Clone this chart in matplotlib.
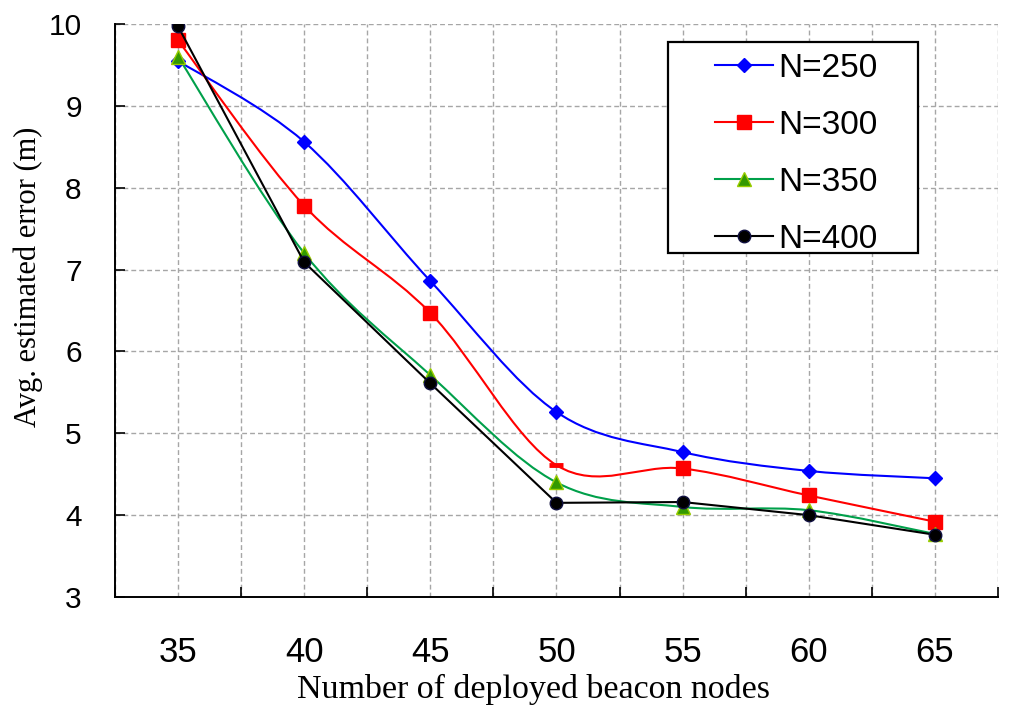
import matplotlib
matplotlib.use("Agg")
import matplotlib.pyplot as plt
from matplotlib.path import Path
from matplotlib.patches import PathPatch, Rectangle
from matplotlib.lines import Line2D

# ---- data ----
beacons = [35, 40, 45, 50, 55, 60, 65]
n250 = [9.55, 8.56, 6.86, 5.26, 4.77, 4.54, 4.45]
n300 = [9.80, 7.78, 6.47, 4.61, 4.57, 4.24, 3.92]
n350 = [9.60, 7.20, 5.71, 4.40, 4.10, 4.06, 3.77]
n400 = [9.97, 7.09, 5.61, 4.15, 4.16, 4.00, 3.76]
series_labels = ["N=250", "N=300", "N=350", "N=400"]
y_ticks = [3, 4, 5, 6, 7, 8, 9, 10]
x_label = "Number of deployed beacon nodes"
y_label = "Avg. estimated error (m)"

serif = ["Liberation Serif", "DejaVu Serif"]
sans = ["Liberation Sans", "DejaVu Sans"]


def smooth_path(xs, ys):
    """Excel-style smoothed line as cubic Bezier segments (Catmull-Rom control points)."""
    n = len(xs)
    verts = [(xs[0], ys[0])]
    codes = [Path.MOVETO]
    for i in range(n - 1):
        a = i - 1 if i > 0 else i
        b = i + 2 if i + 2 < n else i + 1
        c1 = (xs[i] + (xs[i + 1] - xs[a]) / 6.0, ys[i] + (ys[i + 1] - ys[a]) / 6.0)
        c2 = (xs[i + 1] - (xs[b] - xs[i]) / 6.0, ys[i + 1] - (ys[b] - ys[i]) / 6.0)
        verts += [c1, c2, (xs[i + 1], ys[i + 1])]
        codes += [Path.CURVE4] * 3
    return Path(verts, codes)


fig = plt.figure(figsize=(10.24, 7.23), dpi=100)
ax = fig.add_axes([0.1123, 0.1743, 0.8623, 0.7925])

ax.set_xlim(32.5, 67.5)
ax.set_ylim(3, 10)

# grid
half = [32.5 + 5 * k for k in range(8)]
ax.set_xticks(half)
ax.set_xticklabels([])
ax.set_xticks(beacons, minor=True)
ax.set_xticklabels([str(b) for b in beacons], minor=True)
ax.set_yticks(y_ticks)
ax.set_yticklabels([str(v) for v in y_ticks])
grid_kw = dict(color="#a6a6a6", linestyle=(0, (3.5, 2.2)), linewidth=1.0)
ax.grid(True, which="both", axis="x", **grid_kw)
ax.grid(True, which="major", axis="y", **grid_kw)
ax.set_axisbelow(True)

ax.tick_params(axis="x", which="major", direction="in", length=7, width=1.2, color="black")
ax.tick_params(axis="x", which="minor", length=0, pad=28, labelsize=25)
ax.tick_params(axis="y", which="major", direction="in", length=7, width=1.2, pad=24, labelsize=21.5)
for lab in ax.get_xticklabels(minor=True) + ax.get_yticklabels():
    lab.set_family(sans)

for s in ["top", "right"]:
    ax.spines[s].set_visible(False)
for s in ["left", "bottom"]:
    ax.spines[s].set_linewidth(1.4)
    ax.spines[s].set_color("black")

# series
lw = 1.5
blue = "#0000ff"
red = "#ff0000"
green_line = "#00a04a"
green_fill = "#339900"
green_edge = "#99cc00"

ax.add_patch(PathPatch(smooth_path(beacons, n250), fill=False, edgecolor=blue, lw=lw, zorder=3))
ax.plot(beacons, n250, linestyle="none", marker="D", ms=7.5, color=blue, zorder=4)

ax.add_patch(PathPatch(smooth_path(beacons, n300), fill=False, edgecolor=red, lw=lw, zorder=3))
red_idx = [0, 1, 2, 4, 5, 6]
ax.plot([beacons[i] for i in red_idx], [n300[i] for i in red_idx], linestyle="none",
        marker="s", ms=9.5, color=red, zorder=4)
ax.plot([beacons[3]], [n300[3]], linestyle="none", marker="_", ms=9.5, mew=3.5, color=red, zorder=4)

ax.add_patch(PathPatch(smooth_path(beacons, n350), fill=False, edgecolor=green_line, lw=lw, zorder=3))
ax.plot(beacons, n350, linestyle="none", marker="^", ms=10, mfc=green_fill, mec=green_edge,
        mew=1.0, zorder=4)

ax.plot(beacons, n400, color="black", lw=lw, marker="o", ms=9, mfc="black", mec="#101040",
        zorder=5)

# axis labels
ax.set_xlabel(x_label, family=serif, fontsize=24.5)
ax.xaxis.set_label_coords(0.4745, -0.134)
ax.set_ylabel(y_label, family=serif, fontsize=22)
ax.yaxis.set_label_coords(-0.082, 0.558)

# legend
handles = [
    Line2D([], [], color=blue, lw=lw, marker="D", ms=7.5),
    Line2D([], [], color=red, lw=lw, marker="s", ms=9.5),
    Line2D([], [], color=green_line, lw=lw, marker="^", ms=10, mfc=green_fill, mec=green_edge),
    Line2D([], [], color="black", lw=lw, marker="o", ms=9, mfc="black", mec="#101040"),
]
ax.add_patch(Rectangle((0.626, 0.600), 0.283, 0.3686, transform=ax.transAxes, fill=True,
                       facecolor="white", edgecolor="black", lw=1.6, zorder=6))
leg = ax.legend(handles, series_labels, loc="center left", bbox_to_anchor=(0.679, 0.773),
                frameon=False, prop={"family": sans, "size": 24}, handlelength=1.75,
                handletextpad=0.15, labelspacing=0.78, borderpad=0, borderaxespad=0)
leg.set_zorder(7)

fig.savefig("out.png", dpi=100, facecolor="white")
